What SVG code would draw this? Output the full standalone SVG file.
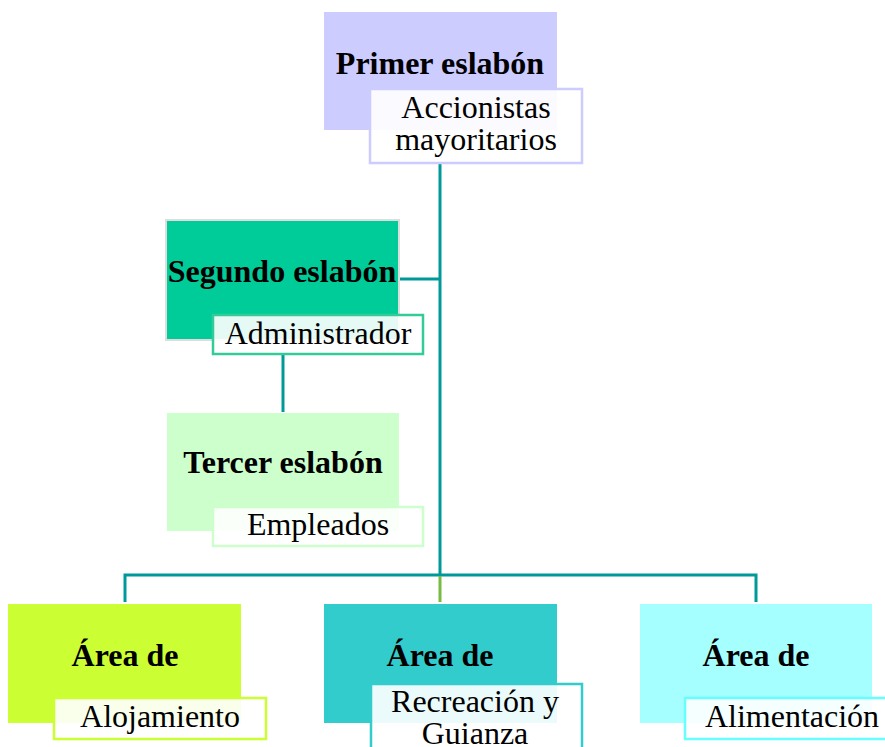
<svg xmlns="http://www.w3.org/2000/svg" width="885" height="747" viewBox="0 0 885 747">
<style>
.t{font-family:"Liberation Serif","Times New Roman",serif;font-size:32px;fill:#000;text-anchor:middle}
.b{font-weight:bold}
.sub{fill:#fff;fill-opacity:0.9;stroke-width:2.5}
.ln{stroke:#009999;stroke-width:3;fill:none}
</style>
<rect width="885" height="747" fill="#fff"/>
<g id="connectors">
<path class="ln" d="M440,164 V575"/>
<path class="ln" d="M400,279 H440"/>
<path class="ln" d="M283,355 V412"/>
<path class="ln" d="M125,602 V575 H756 V602"/>
<path d="M440,576 V602" stroke="#77bb44" stroke-width="3"/>
</g>
<g id="primer">
<rect x="324" y="12" width="233" height="118" fill="#ccccff"/>
<text class="t b" x="440" y="74">Primer eslabón</text>
<rect class="sub" x="370" y="89" width="212" height="74" stroke="#ccccff"/>
<text class="t" x="476" y="118">Accionistas</text>
<text class="t" x="476" y="150">mayoritarios</text>
</g>
<g id="segundo">
<rect x="166" y="220" width="233" height="120" fill="#00cc99" stroke="#dddddd" stroke-width="2"/>
<text class="t b" x="282" y="282">Segundo eslabón</text>
<rect class="sub" x="213" y="315" width="210" height="39" stroke="#33cc99"/>
<text class="t" x="318" y="344">Administrador</text>
</g>
<g id="tercer">
<rect x="167" y="413" width="232" height="118" fill="#ccffcc"/>
<text class="t b" x="283" y="473">Tercer eslabón</text>
<rect class="sub" x="213" y="507" width="210" height="39" stroke="#ccffcc"/>
<text class="t" x="318" y="535">Empleados</text>
</g>
<g id="alojamiento">
<rect x="8" y="604" width="233" height="119" fill="#ccff33"/>
<text class="t b" x="125" y="666">Área de</text>
<rect class="sub" x="54" y="698" width="212" height="41" stroke="#ccff33"/>
<text class="t" x="160" y="727">Alojamiento</text>
</g>
<g id="recreacion">
<rect x="324" y="604" width="233" height="119" fill="#33cccc"/>
<text class="t b" x="440" y="666">Área de</text>
<rect class="sub" x="371" y="684" width="211" height="70" stroke="#33cccc"/>
<text class="t" x="475" y="712">Recreación y</text>
<text class="t" x="475" y="744">Guianza</text>
</g>
<g id="alimentacion">
<rect x="640" y="604" width="232" height="119" fill="#a6ffff"/>
<text class="t b" x="756" y="666">Área de</text>
<rect class="sub" x="685" y="698" width="210" height="41" stroke="#66ffff"/>
<text class="t" x="792" y="727">Alimentación</text>
</g>
</svg>
